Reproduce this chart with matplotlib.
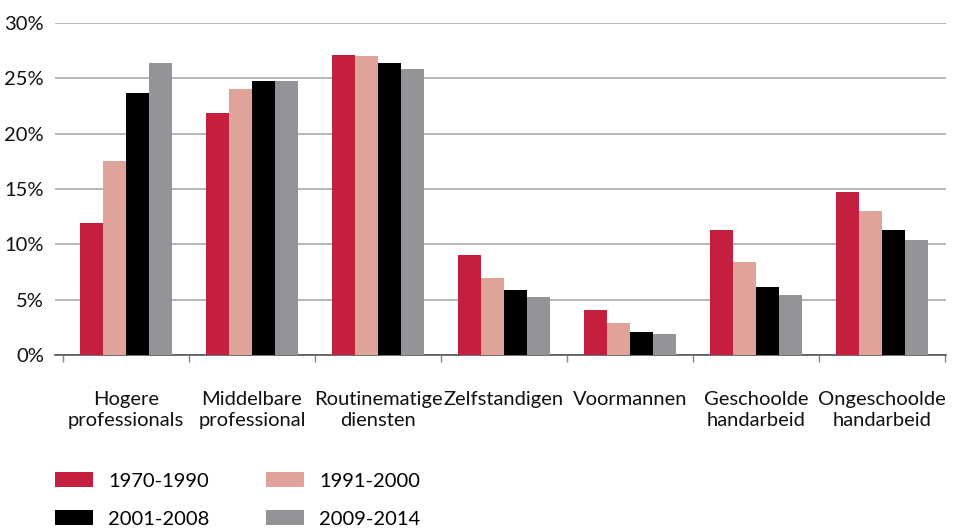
import matplotlib
matplotlib.use("Agg")
import matplotlib.pyplot as plt
import numpy as np
from matplotlib.ticker import FuncFormatter

categories = ["Hogere\nprofessionals", "Middelbare\nprofessional", "Routinematige\ndiensten",
              "Zelfstandigen", "Voormannen", "Geschoolde\nhandarbeid", "Ongeschoolde\nhandarbeid"]
series_names = ["1970-1990", "1991-2000", "2001-2008", "2009-2014"]
s1970 = [11.9, 21.9, 27.1, 9.0, 4.1, 11.3, 14.7]
s1991 = [17.5, 24.0, 27.0, 7.0, 2.9, 8.4, 13.0]
s2001 = [23.7, 24.75, 26.4, 5.9, 2.1, 6.15, 11.3]
s2009 = [26.4, 24.75, 25.8, 5.25, 1.9, 5.4, 10.4]
colors = ["#C41F3E", "#E0A39A", "#000000", "#939498"]
yticks = [0, 5, 10, 15, 20, 25, 30]

plt.rcParams['font.family'] = ['Lato', 'DejaVu Sans']

fig = plt.figure(figsize=(9.6, 5.28), dpi=100)
ax = fig.add_axes([55/960, 1-355/528, (946-55)/960, 332/528])

x = np.arange(len(categories))
w = 0.183
handles = []
for i, (vals, c, n) in enumerate(zip([s1970, s1991, s2001, s2009], colors, series_names)):
    b = ax.bar(x + (i - 1.5) * w, vals, width=w, color=c, label=n, zorder=3)
    handles.append(b)

ax.set_ylim(0, 30)
ax.set_xlim(-0.563, 6.508)
ax.set_yticks(yticks)
ax.yaxis.set_major_formatter(FuncFormatter(lambda v, p: f"{int(v)}%"))
ax.yaxis.grid(True, color="#AAAAAA", linewidth=1.2, zorder=0)
ax.set_axisbelow(True)
for s in ["top", "right", "left"]:
    ax.spines[s].set_visible(False)
ax.spines["bottom"].set_color("#555555")
ax.spines["bottom"].set_linewidth(1.2)
ax.tick_params(axis="y", length=0, labelsize=14.5, pad=8, labelcolor="#111111")
ax.set_xticks(np.arange(len(categories) + 1) - 0.5)
ax.set_xticklabels([])
ax.set_xticks(x, minor=True)
ax.set_xticklabels(categories, minor=True, fontsize=14.5, color="#111111", linespacing=1.3)
ax.tick_params(axis="x", which="major", length=5, color="#888888", width=1)
ax.tick_params(axis="x", which="minor", length=0, pad=26)

order = [0, 2, 1, 3]
fig.legend([handles[i] for i in order], [series_names[i] for i in order], ncol=2,
           loc="upper left", bbox_to_anchor=(55/960, 1-472/528), frameon=False,
           fontsize=14.5, handlelength=1.9, handleheight=0.8, columnspacing=2.8,
           labelspacing=1.0, handletextpad=0.75, borderpad=0, borderaxespad=0)

fig.savefig("out.png", dpi=100)
